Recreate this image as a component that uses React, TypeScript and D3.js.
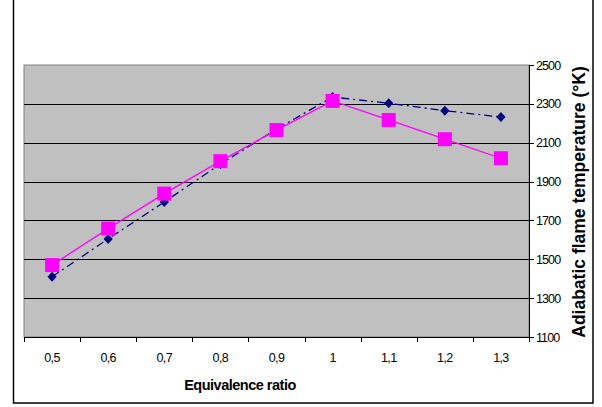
import React from "react";
import * as d3 from "d3";

// Equivalence ratio categories and the two flame temperature series
const categories = ["0,5", "0,6", "0,7", "0,8", "0,9", "1", "1,1", "1,2", "1,3"];
const seriesA = [1410, 1605, 1795, 1990, 2170, 2335, 2303, 2265, 2232];
const seriesB = [1470, 1658, 1838, 2005, 2165, 2315, 2217, 2118, 2020];
const yTicks = [1100, 1300, 1500, 1700, 1900, 2100, 2300, 2500];

const W = 602;
const H = 407;
const plot = { left: 24, right: 529, top: 65, bottom: 337 };
const font = "'Liberation Sans', Arial, sans-serif";

export default function App() {
  const x = d3
    .scaleBand<string>()
    .domain(categories)
    .range([plot.left, plot.right])
    .paddingInner(0)
    .paddingOuter(0);
  const y = d3.scaleLinear().domain([1100, 2500]).range([plot.bottom, plot.top]);
  const cx = (c: string) => (x(c) as number) + x.bandwidth() / 2;

  const line = d3
    .line<number>()
    .x((_, i) => cx(categories[i]))
    .y((d) => y(d));

  const boundaries = [...categories.map((c) => x(c) as number), plot.right];
  const diamond = "M0,-5L4.6,0L0,5L-4.6,0Z";

  return (
    <svg
      width={W}
      height={H}
      style={{ position: "absolute", left: 0, top: 0, background: "#fff" }}
    >
      {/* outer frame */}
      <rect x={13.5} y={-1} width={579.5} height={404} fill="#fff" stroke="#000" strokeWidth={1.5} />

      {/* plot area */}
      <rect
        x={plot.left}
        y={plot.top}
        width={plot.right - plot.left}
        height={plot.bottom - plot.top}
        fill="#C0C0C0"
        stroke="#808080"
        strokeWidth={1}
      />

      {/* horizontal gridlines */}
      {yTicks
        .filter((t) => t !== 1100 && t !== 2500)
        .map((t) => (
          <line
            key={t}
            x1={plot.left}
            x2={plot.right}
            y1={Math.round(y(t)) + 0.5}
            y2={Math.round(y(t)) + 0.5}
            stroke="#000"
            strokeWidth={1}
          />
        ))}

      {/* x axis */}
      <line x1={plot.left} x2={plot.right} y1={plot.bottom + 0.5} y2={plot.bottom + 0.5} stroke="#000" />
      {boundaries.map((b, i) => (
        <line
          key={i}
          x1={Math.round(b) + 0.5}
          x2={Math.round(b) + 0.5}
          y1={plot.bottom}
          y2={plot.bottom + 5}
          stroke="#000"
        />
      ))}
      {categories.map((c) => (
        <text
          key={c}
          x={cx(c)}
          y={362}
          textAnchor="middle"
          fontFamily={font}
          fontSize={12.5}
          letterSpacing={-0.6}
          fill="#000"
        >
          {c}
        </text>
      ))}
      <text
        x={240}
        y={390}
        textAnchor="middle"
        fontFamily={font}
        fontSize={14.5}
        fontWeight="bold"
        letterSpacing={-0.5}
        fill="#000"
      >
        Equivalence ratio
      </text>

      {/* y axis on the right */}
      <line x1={plot.right + 0.5} x2={plot.right + 0.5} y1={plot.top} y2={plot.bottom} stroke="#000" />
      {yTicks.map((t) => (
        <g key={t}>
          <line
            x1={plot.right}
            x2={plot.right + 5}
            y1={Math.round(y(t)) + 0.5}
            y2={Math.round(y(t)) + 0.5}
            stroke="#000"
          />
          <text
            x={536}
            y={y(t) + 4.5}
            fontFamily={font}
            fontSize={12.5}
            letterSpacing={-0.9}
            fill="#000"
          >
            {t}
          </text>
        </g>
      ))}
      <text
        transform={`translate(585, ${(plot.top + plot.bottom) / 2 + 1}) rotate(-90)`}
        textAnchor="middle"
        fontFamily={font}
        fontSize={17.5}
        fontWeight="bold"
        fill="#000"
      >
        Adiabatic flame temperature (°K)
      </text>

      {/* series A: navy dash-dot with diamonds */}
      <path
        d={line(seriesA) as string}
        fill="none"
        stroke="#000080"
        strokeWidth={1.3}
        strokeDasharray="8,4,2,4"
      />
      {seriesA.map((v, i) => (
        <path
          key={i}
          d={diamond}
          transform={`translate(${cx(categories[i])}, ${y(v)})`}
          fill="#000080"
        />
      ))}

      {/* series B: magenta with squares */}
      <path d={line(seriesB) as string} fill="none" stroke="#FF00FF" strokeWidth={1.3} />
      {seriesB.map((v, i) => (
        <rect
          key={i}
          x={cx(categories[i]) - 7}
          y={y(v) - 7}
          width={14}
          height={14}
          fill="#FF00FF"
        />
      ))}
    </svg>
  );
}
